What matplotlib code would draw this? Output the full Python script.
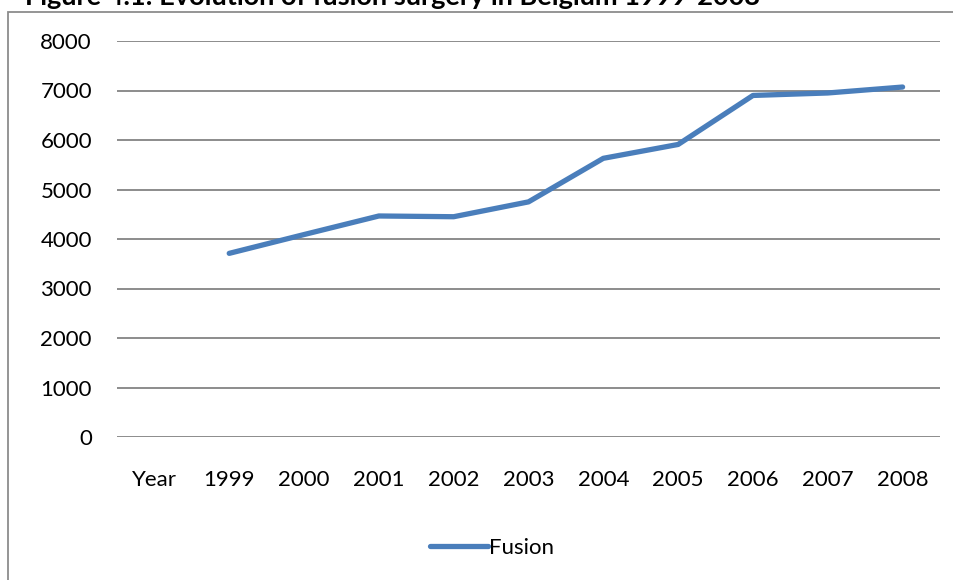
import matplotlib
matplotlib.use("Agg")
import matplotlib.pyplot as plt
from matplotlib.patches import Rectangle

plt.rcParams['font.family'] = ['Lato', 'DejaVu Sans']

# categories (first slot "Year" has no value)
categories = ['Year', '1999', '2000', '2001', '2002', '2003', '2004', '2005', '2006', '2007', '2008']
fusion = [None, 3710, 4090, 4465, 4450, 4750, 5630, 5910, 6900, 6950, 7070]
yticks = [0, 1000, 2000, 3000, 4000, 5000, 6000, 7000, 8000]

W, H = 954, 580
fig = plt.figure(figsize=(W / 100, H / 100), dpi=100)

# chart frame (runs off the right and bottom edges)
fig.patches.append(Rectangle((8 / W, -0.1), 1.2, 1 - 12 / H + 0.1, transform=fig.transFigure,
                             fill=False, edgecolor='#8c8c8c', linewidth=1.3))

# clipped title at the very top
fig.text(25 / W, 1 - 5 / H, 'Figure 4.1: Evolution of fusion surgery in Belgium 1999-2008',
         fontsize=19.5, fontweight='bold', va='baseline', ha='left')

ax = fig.add_axes([117 / W, 1 - 437 / H, (940 - 117) / W, (437 - 41) / H])

xs = [i for i, v in enumerate(fusion) if v is not None]
ys = [v for v in fusion if v is not None]
ax.plot(xs, ys, color='#4a7ebb', linewidth=3.8, solid_capstyle='round', solid_joinstyle='round',
        label='Fusion', zorder=3)

ax.set_xlim(-0.5, len(categories) - 0.5)
ax.set_ylim(0, 8000)
ax.set_yticks(yticks)
ax.set_yticklabels([str(t) for t in yticks])
ax.set_xticks(range(len(categories)))
ax.set_xticklabels(categories)

for t in yticks:
    ax.axhline(t, color='#8c8c8c', linewidth=1.4, zorder=1)

for s in ax.spines.values():
    s.set_visible(False)
ax.tick_params(axis='both', length=0, labelsize=16, labelcolor='black')
ax.tick_params(axis='y', pad=18)
ax.tick_params(axis='x', pad=24)

leg = fig.legend(loc='center', bbox_to_anchor=(492 / W, 1 - 548 / H), frameon=False,
                 fontsize=16, handlelength=2.6, handletextpad=0.05)

fig.savefig('out.png', dpi=100)
